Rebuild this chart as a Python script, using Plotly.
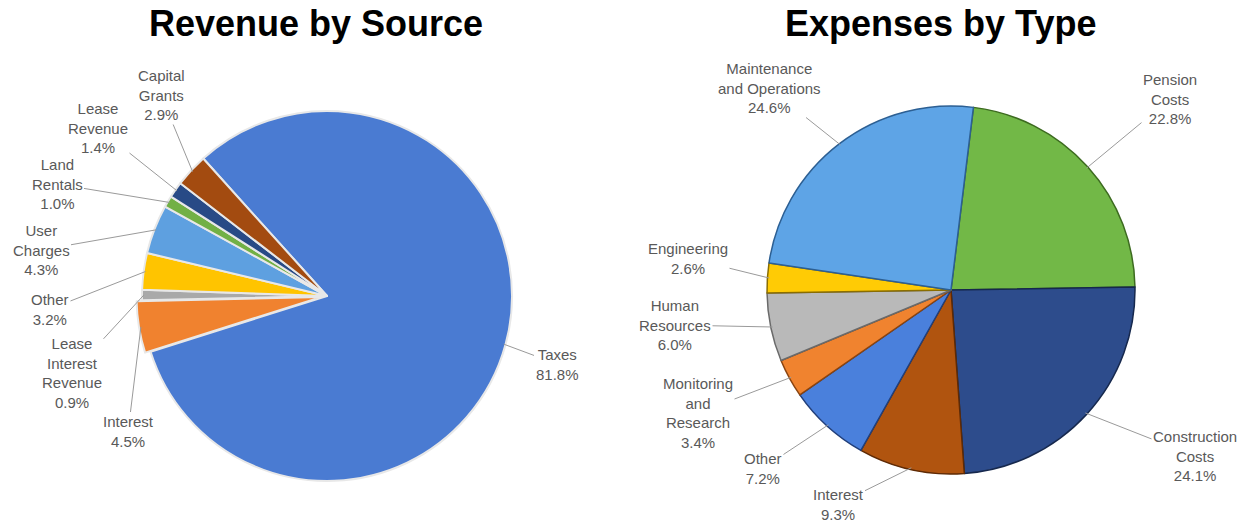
import math
import plotly.graph_objects as go

W, H = 1250, 525

# ---------------- data ----------------
rev_labels = ["Taxes", "Interest", "Lease<br>Interest<br>Revenue", "Other", "User<br>Charges",
              "Land<br>Rentals", "Lease<br>Revenue", "Capital<br>Grants"]
rev_values = [81.8, 4.5, 0.9, 3.2, 4.3, 1.0, 1.4, 2.9]

exp_labels = ["Pension<br>Costs", "Construction<br>Costs", "Interest", "Other",
              "Monitoring<br>and<br>Research", "Human<br>Resources", "Engineering",
              "Maintenance<br>and Operations"]
exp_values = [22.8, 24.1, 9.3, 7.2, 3.4, 6.0, 2.6, 24.6]

titles = ["Revenue by Source", "Expenses by Type"]

# ---------------- styles / layout ----------------
rev_colors = ["#4a7bd2", "#f0822f", "#a9a9a9", "#ffc400", "#5ea0e0", "#72b045", "#284a86", "#a34b10"]
rev_lines = ["#e8e8e8"] * 8
exp_colors = ["#72b847", "#2d4c8c", "#b0540f", "#4a80dc", "#f0832f", "#b9b9b9", "#ffcb05", "#5ea4e6"]
exp_lines = ["#3d6b20", "#16284d", "#5e2a05", "#223f7a", "#8a4410", "#6a6a6a", "#8a6d00", "#2c5f93"]

rev_pull = [0, 0.03, 0, 0, 0, 0, 0, 0]
exp_pull = [0] * 8

pies = [
    dict(cx=327, cy=296, r=185, rot=-42.0, labels=rev_labels, values=rev_values,
         colors=rev_colors, line=rev_lines, lw=2, pull=rev_pull,
         # label text centres (pixels)
         lpos=[(557, 364), (128, 432), (72, 373), (50, 309), (41, 250), (57, 184), (98, 128), (161, 95)],
         title_xy=(316, 23)),
    dict(cx=951, cy=290, r=184, rot=7.0, labels=exp_labels, values=exp_values,
         colors=exp_colors, line=exp_lines, lw=1.5, pull=exp_pull,
         lpos=[(1170, 99), (1195, 456), (838, 504), (763, 468), (698, 413), (675, 325), (688, 258), (769, 88)],
         title_xy=(940, 23)),
]

fig = go.Figure()
annotations = []
label_font = dict(family="Liberation Sans, Arial, sans-serif", size=15, color="#595959")

for k, p in enumerate(pies):
    mp = max(p["pull"])
    half = p["r"] * (1 + mp)
    dom_x = [(p["cx"] - half) / W, (p["cx"] + half) / W]
    dom_y = [1 - (p["cy"] + half) / H, 1 - (p["cy"] - half) / H]
    fig.add_trace(go.Pie(
        labels=[l.replace("<br>", " ") for l in p["labels"]],
        values=p["values"],
        sort=False, direction="clockwise", rotation=p["rot"],
        marker=dict(colors=p["colors"], line=dict(color=p["line"], width=p["lw"])),
        pull=p["pull"], textinfo="none", showlegend=False,
        domain=dict(x=dom_x, y=dom_y),
    ))
    total = sum(p["values"])
    cum = 0.0
    for i, v in enumerate(p["values"]):
        mid = math.radians(p["rot"] + (cum + v / 2) / total * 360.0)
        cum += v
        rr = p["r"] * (1 + p["pull"][i]) * 0.99
        tx = p["cx"] + rr * math.sin(mid)
        ty = p["cy"] - rr * math.cos(mid)
        lx, ly = p["lpos"][i]
        annotations.append(dict(
            x=tx / W, y=1 - ty / H, xref="paper", yref="paper",
            ax=lx - tx, ay=ly - ty, axref="pixel", ayref="pixel",
            text=f"{p['labels'][i]}<br>{p['values'][i]:.1f}%",
            showarrow=True, arrowhead=0, arrowwidth=1, arrowcolor="#9a9a9a",
            standoff=0, startstandoff=0, font=label_font, align="center",
        ))
    tx, ty = p["title_xy"]
    annotations.append(dict(
        x=tx / W, y=1 - ty / H, xref="paper", yref="paper", showarrow=False,
        text=f"<b>{titles[k]}</b>", xanchor="center", yanchor="middle",
        font=dict(family="Liberation Sans, Arial, sans-serif", size=36, color="#000000"),
    ))

fig.update_layout(
    width=W, height=H,
    margin=dict(l=0, r=0, t=0, b=0),
    paper_bgcolor="white", plot_bgcolor="white",
    annotations=annotations,
)

fig.write_html("out.html")
